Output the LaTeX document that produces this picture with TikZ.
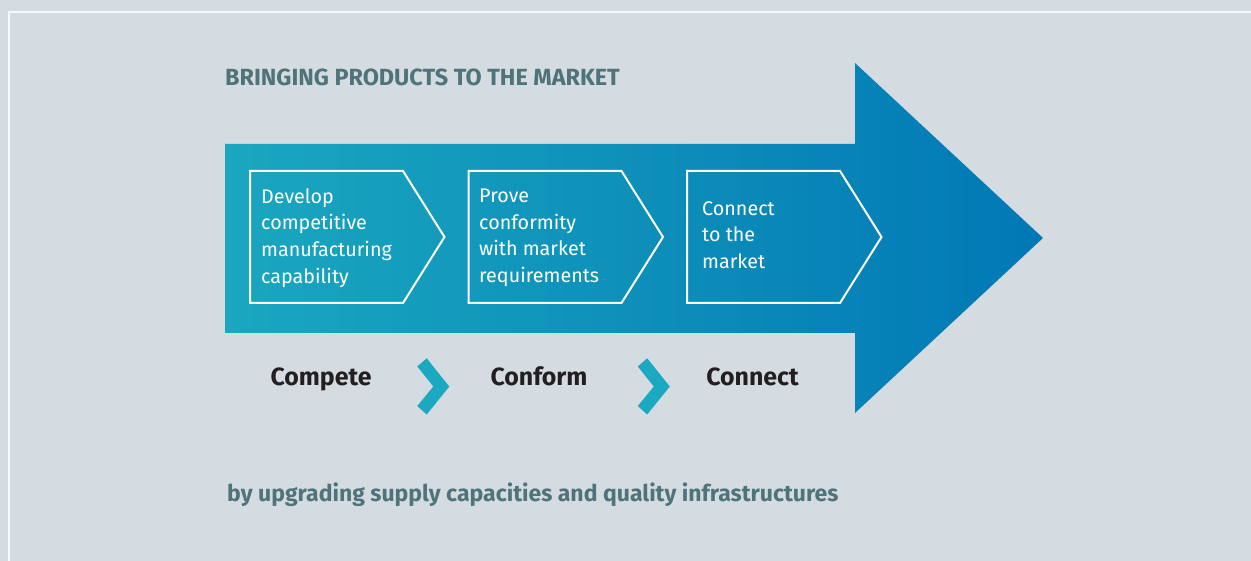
\documentclass[tikz,border=0pt]{standalone}
\usepackage{fontspec}
\setmainfont{Fira Sans}
\definecolor{bg}{RGB}{212,220,226}
\definecolor{frameline}{RGB}{246,248,249}
\definecolor{arrowL}{RGB}{26,167,191}
\definecolor{arrowR}{RGB}{1,120,181}
\definecolor{chev}{RGB}{27,169,193}
\definecolor{headtxt}{RGB}{78,116,121}
\definecolor{labtxt}{RGB}{35,31,32}
\begin{document}
\begin{tikzpicture}[x=1bp,y=-1bp,
  stepshape/.style={draw=white, line width=2bp, line join=miter},
  boxtext/.style={text=white, inner sep=0pt, align=left, anchor=west,
    font=\fontsize{19.8}{26.7}\selectfont},
  lab/.style={text=labtxt, inner sep=0pt, anchor=base,
    font=\fontsize{25}{30}\selectfont\bfseries},
  headline/.style={text=headtxt, inner sep=0pt, anchor=base west,
    font=\fontsize{23.5}{28}\selectfont\bfseries},
  footline/.style={text=headtxt, inner sep=0pt, anchor=base west,
    font=\fontsize{23.1}{28}\selectfont\bfseries},
  chevron/.style={fill=chev}]
\useasboundingbox (0,0) rectangle (1251,561);
\fill[bg] (0,0) rectangle (1251,561);
\draw[frameline, line width=2bp] (9,562) -- (9,12.3) -- (1252,12.3);
% big arrow
\shade[left color=arrowL, right color=arrowR]
  (225,144) -- (855,144) -- (855,63) -- (1043,238) -- (855,413) -- (855,333) -- (225,333) -- cycle;
% step boxes
\foreach \x in {250,468.5,687}{
  \draw[stepshape] (\x,171) -- (\x+153,171) -- (\x+194.5,237) -- (\x+153,303) -- (\x,303) -- cycle;
}
\node[boxtext] (t1) at (261,238) {Develop\\competitive\\manufacturing\\capability};
\node[boxtext] (t2) at (479,238) {Prove\\conformity\\with market\\requirements};
\node[boxtext] (t3) at (702,235) {Connect\\to the\\market};
% title and footer
\node[headline] (title) at (225,86) {BRINGING PRODUCTS TO THE MARKET};
\node[footline] (foot) at (227,501) {by upgrading supply capacities and quality infrastructures};
% labels
\node[lab] (compete) at (321,386) {Compete};
\node[lab] (conform) at (539,386) {Conform};
\node[lab] (connect) at (752.5,386) {Connect};
% chevrons
\foreach \dx in {0,220.5}{
  \fill[chevron] (417.3+\dx,366.5) -- (426.7+\dx,358.3) -- (449.3+\dx,386.5) -- (426.7+\dx,414.5) -- (417.3+\dx,406) -- (433.3+\dx,386.5) -- cycle;
}
\end{tikzpicture}
\end{document}
